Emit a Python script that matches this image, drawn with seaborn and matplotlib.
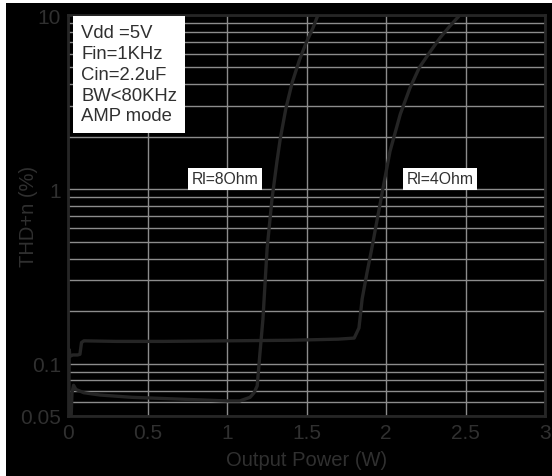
import matplotlib
matplotlib.use('Agg')
import matplotlib.pyplot as plt
import matplotlib.patches as mpatches
from matplotlib.ticker import NullFormatter, LogLocator
import seaborn as sns
import pandas as pd
import numpy as np

# curve data
x_8ohm = [0.0, 0.01, 0.02, 0.025, 0.035, 0.05, 0.1, 0.2, 0.4, 0.6, 0.8, 1.0,
          1.08, 1.145, 1.17, 1.19, 1.208, 1.226, 1.252, 1.283, 1.314, 1.335,
          1.37, 1.41, 1.455, 1.50, 1.54, 1.572]
y_8ohm = [0.06, 0.05, 0.05, 0.068, 0.075, 0.071, 0.068, 0.066, 0.064, 0.063,
          0.062, 0.061, 0.061, 0.064, 0.068, 0.0745, 0.117, 0.18, 0.454, 0.88,
          1.44, 1.95, 2.9, 4.1, 5.5, 7.0, 8.4, 10.0]

x_4ohm = [0.0, 0.004, 0.008, 0.012, 0.03, 0.06, 0.075, 0.085, 0.1, 0.3, 0.6,
          1.0, 1.4, 1.7, 1.8, 1.83, 1.85, 1.88, 1.91, 1.98, 2.025, 2.09, 2.15,
          2.21, 2.28, 2.34, 2.40, 2.465]
y_4ohm = [0.16, 0.05, 0.12, 0.11, 0.112, 0.112, 0.113, 0.132, 0.135, 0.134,
          0.134, 0.135, 0.136, 0.138, 0.14, 0.16, 0.235, 0.33, 0.454, 1.0,
          1.65, 2.7, 3.8, 5.0, 6.2, 7.4, 8.6, 10.0]

x_ticks = [0, 0.5, 1, 1.5, 2, 2.5, 3]
x_ticklabels = ['0', '0.5', '1', '1.5', '2', '2.5', '3']
y_ticks = [0.05, 0.1, 1, 10]
y_ticklabels = ['0.05', '0.1', '1', '10']
info_lines = ['Vdd =5V', 'Fin=1KHz', 'Cin=2.2uF', 'BW<80KHz', 'AMP mode']

df = pd.concat([
    pd.DataFrame({'P': x_8ohm, 'THD': y_8ohm, 'load': 'Rl=8Ohm'}),
    pd.DataFrame({'P': x_4ohm, 'THD': y_4ohm, 'load': 'Rl=4Ohm'}),
])

sns.set_style('dark')
plt.rcParams['font.family'] = ['Liberation Sans', 'DejaVu Sans']

txt = '#303030'
fig = plt.figure(figsize=(5.52, 4.77), dpi=100, facecolor='white')
# black backdrop with a thin white border on the left and top
fig.patches.append(mpatches.Rectangle((6/552, 0), 1, 1 - 4/477,
                                      transform=fig.transFigure,
                                      facecolor='black', edgecolor='none',
                                      zorder=-10))
ax = fig.add_axes([68/552, 1 - 417/477, 477/552, 401/477])
ax.set_facecolor('black')

sns.lineplot(data=df, x='P', y='THD', units='load', estimator=None, sort=False,
             color='#252525', linewidth=2.4, ax=ax, legend=False, zorder=3)

ax.set_yscale('log')
ax.set_xlim(0, 3)
ax.set_ylim(0.05, 10)
ax.set_xticks(x_ticks)
ax.set_xticklabels(x_ticklabels)
ax.set_yticks(y_ticks)
ax.set_yticklabels(y_ticklabels)
ax.yaxis.set_minor_locator(LogLocator(base=10, subs=np.arange(2, 10)))
ax.yaxis.set_minor_formatter(NullFormatter())
ax.tick_params(axis='both', which='both', length=0, labelsize=15,
               labelcolor=txt, pad=5)
ax.grid(True, which='major', color='#8c8c8c', linewidth=1.0)
ax.grid(True, which='minor', axis='y', color='#8c8c8c', linewidth=1.0)
for s in ax.spines.values():
    s.set_visible(True)
    s.set_color('#262626')
    s.set_linewidth(2)

ax.set_xlabel('Output Power (W)', color=txt, fontsize=14.5)
ax.set_ylabel('THD+n (%)', color=txt, fontsize=14.5)
ax.xaxis.set_label_coords(0.5, -0.085)
ax.yaxis.set_label_coords(-0.062, 0.5)

# condition box
ax.text(0.082, 8.9, '\n'.join(info_lines), fontsize=13.3, color=txt,
        va='top', ha='left', linespacing=1.3, zorder=5,
        bbox=dict(facecolor='white', edgecolor='none', pad=6))

ax.text(0.987, 1.15, 'Rl=8Ohm', fontsize=11.3, color=txt, ha='center',
        va='center', zorder=5,
        bbox=dict(facecolor='white', edgecolor='none', pad=2.5))
ax.text(2.34, 1.15, 'Rl=4Ohm', fontsize=11.3, color=txt, ha='center',
        va='center', zorder=5,
        bbox=dict(facecolor='white', edgecolor='none', pad=2.5))

plt.savefig('out.png', dpi=100, facecolor='white')
